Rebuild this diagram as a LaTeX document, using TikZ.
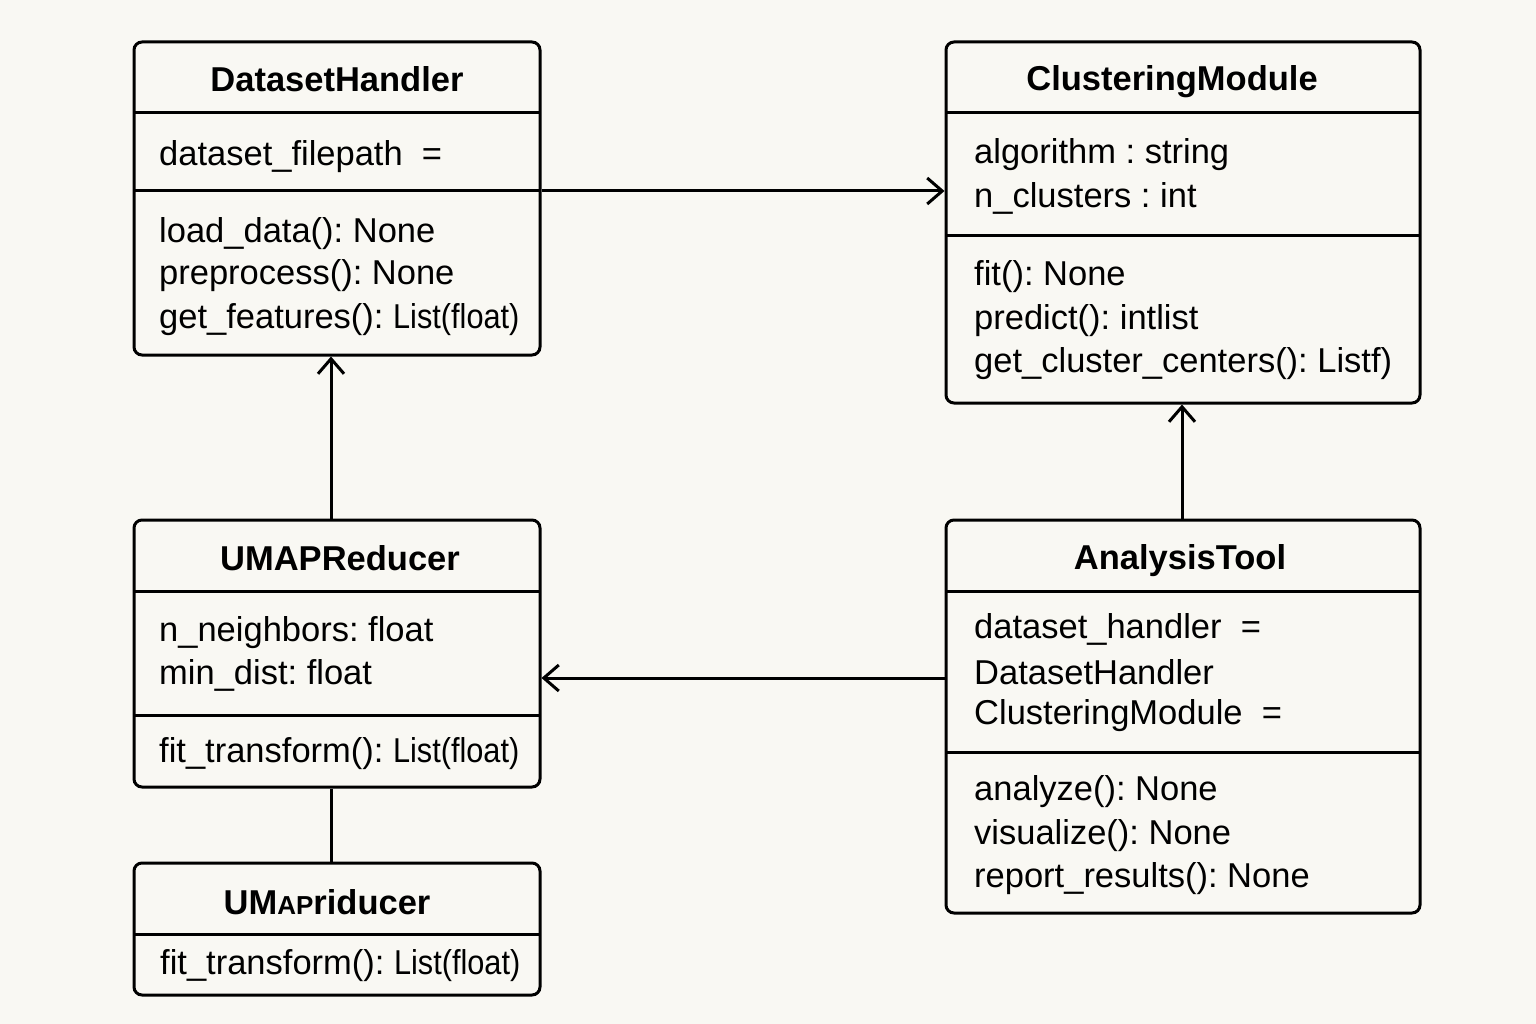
\documentclass[tikz,border=0pt]{standalone}
\usepackage{fontspec}
\setmainfont{Liberation Sans}
\usepackage{graphicx}
\usepackage{tikz}
\usetikzlibrary{arrows.meta, positioning, calc}

\definecolor{paper}{HTML}{F9F8F3}
\frenchspacing
\newcommand{\narrowtype}[1]{\scalebox{0.89}[1]{#1}}

\tikzset{
    classbox/.style={draw, line width=3pt, rounded corners=8pt, inner sep=0pt},
    title/.style={font=\fontsize{34.5}{40}\selectfont\bfseries, inner sep=0pt, yshift=-2pt},
    member/.style={font=\fontsize{34.5}{40}\selectfont, anchor=west, inner sep=0pt, yshift=-3pt},
    divider/.style={line width=3pt},
    assoc/.style={line width=3pt, -{Straight Barb[length=15pt, width=26pt, line width=3pt]}},
    plainlink/.style={line width=3pt}
}

\begin{document}
\begin{tikzpicture}[x=1pt, y=-1pt]
    \fill[paper] (0,0) rectangle (1536,1024);
    \useasboundingbox (0,0) rectangle (1536,1024);

    % DatasetHandler
    \node[classbox, minimum width=406pt, minimum height=313pt] (dh) at (337,198.5) {};
    \draw[divider] (134,113) -- (540,113);
    \draw[divider] (134,191) -- (540,191);
    \node[title] (dh-t) at (337,77) {DatasetHandler};
    \node[member] (dh-a1) at (159,154) {dataset\_filepath \ =};
    \node[member] (dh-m1) at (159,231) {load\_data(): None};
    \node[member] (dh-m2) at (159,273) {preprocess(): None};
    \node[member] (dh-m3) at (159,317) {get\_features(): \narrowtype{List(float)}};

    % ClusteringModule
    \node[classbox, minimum width=474pt, minimum height=361pt] (cm) at (1183,222.5) {};
    \draw[divider] (946,113) -- (1420,113);
    \draw[divider] (946,236) -- (1420,236);
    \node[title] (cm-t) at (1172,80) {ClusteringModule};
    \node[member] (cm-a1) at (974,152) {algorithm : string};
    \node[member] (cm-a2) at (974,195) {n\_clusters : int};
    \node[member] (cm-m1) at (974,274) {fit(): None};
    \node[member] (cm-m2) at (974,318) {predict(): intlist};
    \node[member] (cm-m3) at (974,361) {get\_cluster\_centers(): Listf)};

    % UMAPReducer
    \node[classbox, minimum width=406pt, minimum height=267pt] (ur) at (337,653.5) {};
    \draw[divider] (134,591) -- (540,591);
    \draw[divider] (134,715) -- (540,715);
    \node[title] (ur-t) at (340,556) {UMAPReducer};
    \node[member] (ur-a1) at (159,630) {n\_neighbors: float};
    \node[member] (ur-a2) at (159,672) {min\_dist: float};
    \node[member] (ur-m1) at (159,751) {fit\_transform(): \narrowtype{List(float)}};

    % UMApriducer
    \node[classbox, minimum width=406pt, minimum height=132pt] (up) at (337,929) {};
    \draw[divider] (134,934) -- (540,934);
    \node[title] (up-t) at (327,900) {UM{\fontsize{26}{30}\selectfont AP}riducer};
    \node[member] (up-m1) at (160,963) {fit\_transform(): \narrowtype{List(float)}};

    % AnalysisTool
    \node[classbox, minimum width=474pt, minimum height=393pt] (at) at (1183,716.5) {};
    \draw[divider] (946,591) -- (1420,591);
    \draw[divider] (946,752) -- (1420,752);
    \node[title] (at-t) at (1180,559) {AnalysisTool};
    \node[member] (at-a1) at (974,626) {dataset\_handler \ =};
    \node[member] (at-a2) at (974,669) {DatasetHandler};
    \node[member] (at-a3) at (974,713) {ClusteringModule \ =};
    \node[member] (at-m1) at (974,789) {analyze(): None};
    \node[member] (at-m2) at (974,833) {visualize(): None};
    \node[member] (at-m3) at (974,876) {report\_results(): None};

    % connectors
    \draw[assoc] (dh.east |- 0,191) -- (cm.west |- 0,191);
    \draw[assoc] (ur.north -| 331,0) -- (dh.south -| 331,0);
    \draw[assoc] (at.north -| 1182,0) -- (cm.south -| 1182,0);
    \draw[assoc] (at.west |- 0,678) -- (ur.east |- 0,678);
    \draw[plainlink] (ur.south -| 331,0) -- (up.north -| 331,0);
\end{tikzpicture}
\end{document}
